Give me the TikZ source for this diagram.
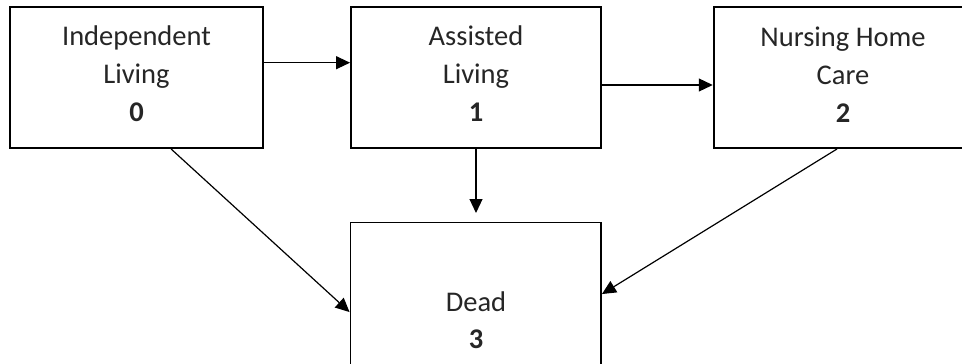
\documentclass[tikz,border=0pt]{standalone}
\usepackage{fontspec}
\setmainfont{Carlito}
\usetikzlibrary{arrows.meta}
\tikzset{
  box/.style={draw=black, line width=1.9pt, rectangle, inner sep=0pt},
  lbl/.style={font=\fontsize{28.5pt}{38pt}\selectfont, align=center, inner sep=0pt, text=black!85},
  arr/.style={draw=black, line width=1.2pt, -{Triangle[length=14pt,width=13pt]}}
}
\begin{document}
\begin{tikzpicture}[x=1pt,y=-1pt]
\useasboundingbox (0,0) rectangle (962,364);
\clip (0,0) rectangle (962,364);
\fill[white] (0,0) rectangle (962,364);
% boxes
\node[box, minimum width=253pt, minimum height=141pt] (n0) at (136.5,77.5) {};
\node[box, minimum width=250pt, minimum height=141pt] (n1) at (476,77.5) {};
\node[box, minimum width=258.3pt, minimum height=141pt] (n2) at (842.85,77.5) {};
\node[box, minimum width=250.5pt, minimum height=152.5pt] (n3) at (475.75,298.75) {};
% texts
\node[lbl] (t0) at (136.5,74) {Independent\\Living\\\textbf{0}};
\node[lbl] (t1) at (476,74) {Assisted\\Living\\\textbf{1}};
\node[lbl] (t2) at (843,74.5) {Nursing Home\\Care\\\textbf{2}};
\node[lbl, font=\fontsize{28.5pt}{37.5pt}\selectfont] (t3) at (476,320) {Dead\\\textbf{3}};
% connectors
\coordinate (e13) at (476,213);
\draw[arr] ([yshift=14.8pt]n0.east) -- ([yshift=14.8pt]n1.west);
\draw[arr] ([yshift=-7.5pt]n1.east) -- ([yshift=-7.5pt]n2.west);
\draw[arr] (n1.south) -- (e13);
\draw[arr] ([xshift=162pt]n0.south west) -- ([yshift=-90.5pt]n3.north west);
\draw[arr] ([xshift=124.3pt]n2.south west) -- ([yshift=-72.5pt]n3.north east);
\end{tikzpicture}
\end{document}
